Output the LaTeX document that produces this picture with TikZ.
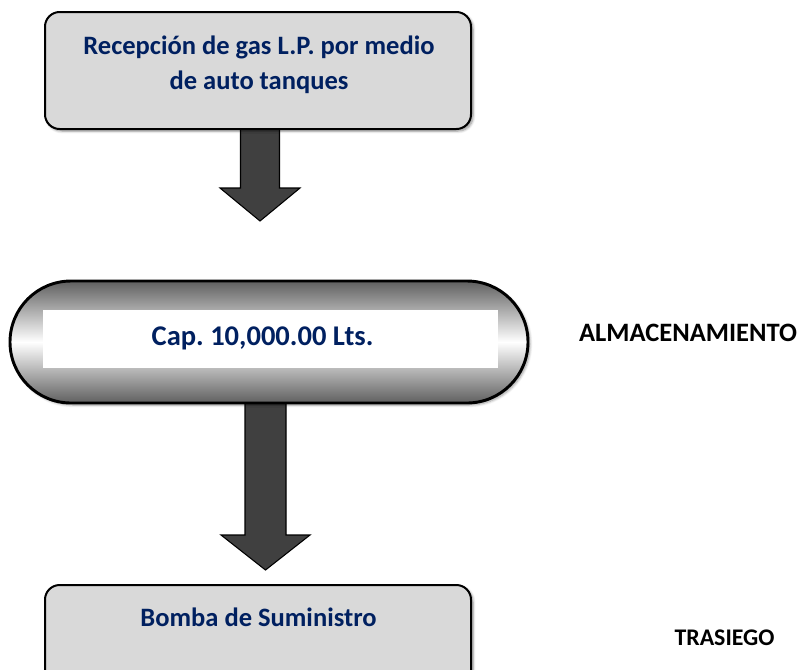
\documentclass[tikz,border=0pt]{standalone}
\usepackage{fontspec}
\setmainfont{Carlito}
\usetikzlibrary{shadows.blur,calc}
\definecolor{navy}{RGB}{0,32,96}
\definecolor{boxgrey}{RGB}{217,217,217}
\definecolor{arrowgrey}{RGB}{64,64,64}
\frenchspacing
\tikzset{
  procbox/.style={draw=black, line width=1.5pt, fill=boxgrey, rounded corners=11pt,
    minimum width=319.5pt, minimum height=87.75pt, inner sep=0pt,
    blur shadow={shadow xshift=1.5pt, shadow yshift=-1.5pt, shadow blur steps=6, shadow opacity=45}},
  boxtext/.style={text=navy, font=\bfseries\fontsize{19.9}{26.25}\selectfont, align=center, inner sep=0pt},
  sidelabel/.style={text=black, font=\bfseries\fontsize{19.9}{26.25}\selectfont, inner sep=0pt},
  tankshape/.style={draw=black, line width=2.2pt, rounded corners=45.75pt,
    minimum width=388.5pt, minimum height=91.5pt, inner sep=0pt,
    top color=gray!75!black, bottom color=gray!75!black, middle color=white,
    blur shadow={shadow xshift=1.5pt, shadow yshift=-1.5pt, shadow blur steps=6, shadow opacity=40}},
  window/.style={fill=white, minimum width=341.25pt, minimum height=43.5pt, inner sep=0pt},
  blockarrow/.style={fill=arrowgrey, draw=black, line width=0.8pt, line join=miter}
}
\begin{document}
\begin{tikzpicture}[x=0.75pt,y=-0.75pt]
\useasboundingbox (0,0) rectangle (799,669);
% arrows first
\coordinate (a1) at (260,129);
\coordinate (a2) at (265.5,403);
\draw[blockarrow] ($(a1)+(-19.5,0)$) -- ++(0,59) -- ++(-20.5,0) -- ($(a1)+(0,92)$)
  -- ($(a1)+(40,59)$) -- ++(-20.5,0) -- ($(a1)+(19.5,0)$) -- cycle;
\draw[blockarrow] ($(a2)+(-20.5,0)$) -- ++(0,132) -- ++(-24,0) -- ($(a2)+(0,167)$)
  -- ($(a2)+(44.5,132)$) -- ++(-24,0) -- ($(a2)+(20.5,0)$) -- cycle;
% top box
\node[procbox] (recep) at (258,70.5) {};
\node[boxtext] (receptext) at (259,64.5) {Recepción de gas L.P. por medio\\de auto tanques};
% tank
\node[tankshape] (tank) at (269,342) {};
\node[window] (win) at (270.5,339) {};
\node[boxtext, font=\bfseries\fontsize{21.4}{26}\selectfont] (captext) at (262.5,338) {Cap. 10,000.00 Lts.};
% bottom box
\node[procbox] (bomba) at (258,643.5) {};
\node[boxtext] (bombatext) at (258.5,617) {Bomba de Suministro};
% side labels
\node[sidelabel] (alm) at (688,333) {ALMACENAMIENTO};
\node[sidelabel, font=\bfseries\fontsize{17.9}{22}\selectfont] (tras) at (724.5,638) {TRASIEGO};
\end{tikzpicture}
\end{document}
